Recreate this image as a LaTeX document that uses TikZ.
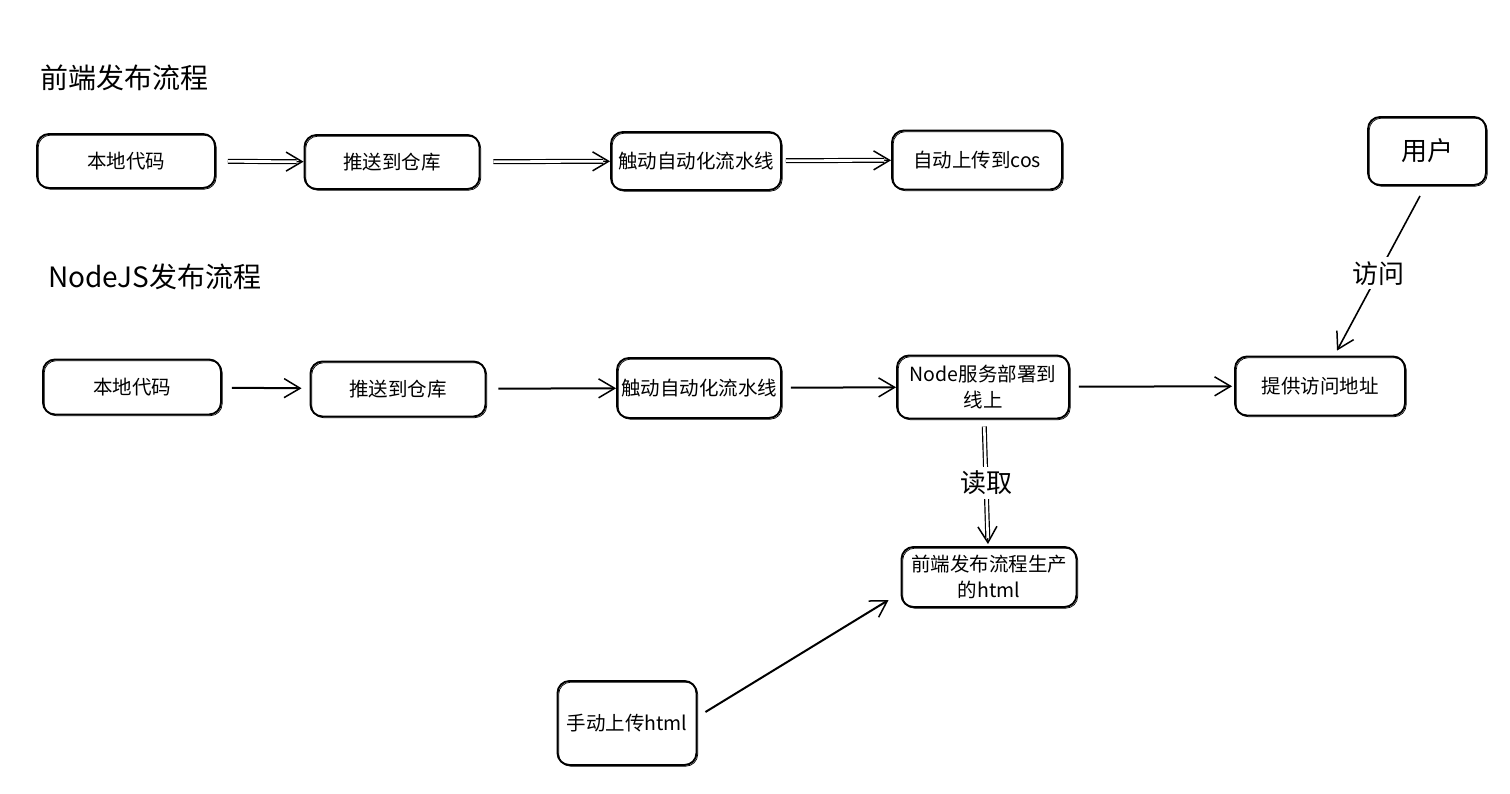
\documentclass[tikz,border=0pt]{standalone}
\usepackage{fontspec}
\setmainfont{Noto Sans CJK SC}
\usetikzlibrary{arrows.meta,calc}
\begin{document}
\begin{tikzpicture}[x=1pt,y=-1pt,
 box/.style={draw, line width=1.9pt, rounded corners=12pt, align=center,
   font=\fontsize{19.5}{26}\selectfont, inner sep=2pt,
   postaction={draw, line width=0.7pt, transform canvas={shift={(1.2pt,-1.2pt)}}}},
 title/.style={anchor=west, font=\fontsize{28}{32}\selectfont, inner sep=0pt},
 tipd/.style={-{Straight Barb[length=16pt,width=19pt,line width=1.5pt]}},
 sarr/.style={line width=2pt, tipd},
 darr/.style={line width=1.2pt, tipd},
 dline/.style={double, double distance=2.6pt, line width=1.2pt},
 lbl/.style={fill=white, inner sep=4pt, font=\fontsize{26}{30}\selectfont}
]
\useasboundingbox (0,0) rectangle (1510,793);
\node[title] (t1) at (40,78) {前端发布流程};
\node[title] (t2) at (48,277) {NodeJS发布流程};

% row 1
\node[box, minimum width=178pt, minimum height=54pt] (a1) at (126,161) {本地代码};
\node[box, minimum width=175pt, minimum height=54pt] (a2) at (392,162) {推送到仓库};
\node[box, minimum width=170pt, minimum height=58pt] (a3) at (696,161) {触动自动化流水线};
\node[box, minimum width=170pt, minimum height=59pt] (a4) at (977,160) {自动上传到cos};
\node[box, minimum width=118pt, minimum height=68pt, font=\fontsize{26}{30}\selectfont] (user) at (1427,151) {用户};

% row 2
\node[box, minimum width=178pt, minimum height=55pt] (b1) at (132,387) {本地代码};
\node[box, minimum width=175pt, minimum height=55pt] (b2) at (398,389) {推送到仓库};
\node[box, minimum width=164pt, minimum height=60pt] (b3) at (699,388) {触动自动化流水线};
\node[box, minimum width=172pt, minimum height=63pt] (b4) at (983,387) {Node服务部署到\\线上};
\node[box, minimum width=170pt, minimum height=59pt] (b5) at (1320,386) {提供访问地址};
\node[box, minimum width=175pt, minimum height=60pt] (h) at (989,577) {前端发布流程生产\\的html};
\node[box, minimum width=139pt, minimum height=84pt] (m) at (627,723) {手动上传html};

% row 1 double arrows
\draw[darr, shorten <=12pt] (a1) -- (a2);
\draw[dline, shorten <=12pt, shorten >=7pt] (a1) -- (a2);
\draw[darr, shorten <=13pt] (a2) -- (a3);
\draw[dline, shorten <=13pt, shorten >=7pt] (a2) -- (a3);
\draw[darr, shorten <=4pt] (a3) -- (a4);
\draw[dline, shorten <=4pt, shorten >=7pt] (a3) -- (a4);

% row 2 arrows
\draw[sarr, shorten <=10pt, shorten >=8pt] (b1) -- (b2);
\draw[sarr, shorten <=12pt] (b2) -- (b3);
\draw[sarr, shorten <=9pt] (b3) -- (b4);
\draw[sarr, shorten <=9pt, shorten >=2pt] (b4) -- (b5);

% read
\draw[darr, shorten <=7pt, shorten >=2pt] (b4) -- (h);
\draw[dline, shorten <=7pt, shorten >=8pt] (b4) -- (h) node[lbl, midway] (rd) {读取};

% user visit
\draw[sarr, line width=1.6pt] ([xshift=-7pt,yshift=-10pt]user.south) -- ([xshift=17pt,yshift=5pt]b5.north) node[lbl, midway] (fw) {访问};

% manual upload
\draw[sarr] ([xshift=8pt,yshift=11pt]m.east) -- ([xshift=-12pt,yshift=-23pt]h.west);
\end{tikzpicture}
\end{document}
